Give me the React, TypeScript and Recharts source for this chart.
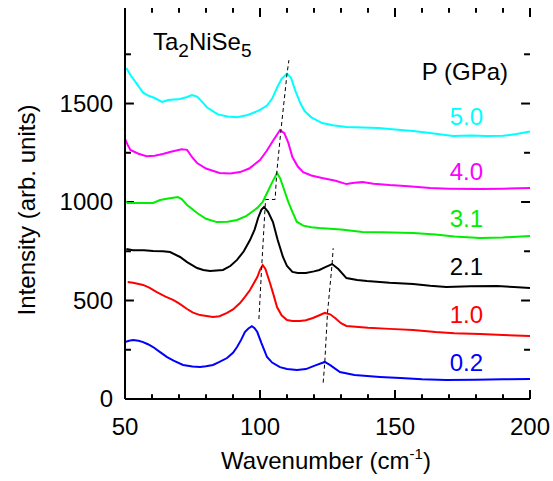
import React from "react";
import {
  LineChart,
  Line,
  XAxis,
  YAxis,
  ReferenceLine,
  Customized,
} from "recharts";

// Raman spectra of Ta2NiSe5 under pressure, offset vertically.
// Each series: [wavenumber (cm-1), intensity (arb. units)]
const p50: [number, number][] = [
  [50.5, 1680], [52, 1645], [54.4, 1600], [56.7, 1555], [59, 1538], [61, 1528], [63.7, 1508],
  [66, 1518], [70.4, 1523], [73, 1533], [74.8, 1543], [76.7, 1535], [78.5, 1510], [80.4, 1480],
  [84.4, 1445], [88, 1434], [91.5, 1431], [95, 1440], [97.4, 1452], [100, 1468], [102.6, 1490],
  [104.5, 1525], [106.3, 1580], [108, 1625], [110, 1652], [111.5, 1630], [113, 1568], [115, 1500],
  [116.5, 1462], [119, 1430], [123, 1401], [127, 1390], [132, 1381], [138, 1378], [144, 1376],
  [150, 1368], [156.7, 1360], [163, 1350], [171.5, 1335], [178, 1338], [184, 1335], [190, 1336],
  [195, 1345], [200, 1358],
];
const p40: [number, number][] = [
  [50, 1320], [51, 1290], [52, 1264], [55, 1245], [58, 1233], [61, 1235], [64, 1244], [67, 1255],
  [71, 1268], [73, 1265], [75, 1225], [76.7, 1198], [80, 1170], [85, 1147], [89, 1145],
  [92.6, 1152], [96, 1170], [100, 1213], [102.5, 1260], [105, 1315], [107.4, 1365], [109, 1350],
  [110.5, 1300], [112, 1228], [114, 1180], [116, 1152], [119, 1135], [123, 1122], [128, 1108],
  [132, 1091], [135, 1098], [138, 1101], [142, 1093], [148, 1086], [155, 1080], [163, 1071],
  [170, 1068], [181.5, 1066], [190, 1068], [200, 1071],
];
const p31: [number, number][] = [
  [50, 1005], [51, 995], [55.6, 995], [60.4, 995], [63, 1010], [66, 1018], [69.6, 1025],
  [71, 1015], [73, 985], [76.7, 944], [80, 915], [84, 898], [88, 900], [91.5, 909], [95, 930],
  [99, 970], [101, 1000], [102.6, 1046], [104.5, 1100], [106.3, 1147], [107.5, 1120], [109, 1060],
  [110.5, 1000], [112, 950], [113.6, 900], [116, 880], [119, 872], [122, 868], [130, 860],
  [138, 848], [145, 846], [156.7, 843], [165, 835], [172, 825], [181.5, 817], [190, 820],
  [200, 827],
];
const p21: [number, number][] = [
  [50.5, 761], [53, 755], [57, 755], [60.4, 751], [64, 750], [66.7, 746], [70.4, 721], [73, 695],
  [76.7, 665], [79, 655], [81.5, 650], [86.3, 655], [89, 675], [91.5, 706], [94, 750], [96.3, 807],
  [98, 860], [99.3, 919], [100.5, 960], [101.5, 975], [103, 950], [104.8, 898], [106.5, 810],
  [108.5, 721], [110, 675], [112, 645], [114, 640], [117, 640], [120, 648], [122, 655], [124, 668],
  [126.7, 685], [129, 660], [132, 614], [136, 604], [139.6, 599], [148, 590], [156.7, 584],
  [163, 575], [169, 569], [178, 572], [187.8, 574], [194, 568], [200, 563],
];
const p10: [number, number][] = [
  [51, 594], [53, 590], [56.7, 579], [59, 565], [61.8, 543], [65, 520], [67.8, 503], [70, 485],
  [73, 457], [75, 440], [77.8, 426], [82.6, 416], [85, 420], [87.8, 437], [90, 455], [92.6, 487],
  [94.5, 520], [96.3, 553], [99, 619], [100, 655], [101, 680], [102, 660], [103.7, 589], [105, 530],
  [106.3, 467], [108, 425], [110, 401], [112, 396], [114.8, 396], [117, 400], [119.6, 411],
  [122, 425], [124, 437], [126, 430], [127.8, 411], [130, 385], [132, 371], [140, 362], [148, 356],
  [156.7, 350], [165, 340], [172, 334], [181.5, 330], [190, 325], [200, 320],
];
const p02: [number, number][] = [
  [50, 289], [51.5, 296], [53, 299], [55, 296], [56.7, 289], [58.5, 278], [60.4, 264], [63, 238],
  [65.6, 213], [68, 195], [71.5, 173], [75, 165], [77.8, 162], [80, 166], [82.6, 173], [85, 188],
  [87.8, 208], [90, 235], [91.5, 264], [93, 300], [94.4, 340], [95.7, 358], [97, 370], [98, 360],
  [99, 340], [100.5, 285], [102.6, 213], [104.5, 185], [107.4, 162], [110, 152], [113.7, 147],
  [117, 152], [121, 173], [124, 188], [126, 172], [129.6, 137], [135, 122], [144.4, 112],
  [152, 106], [160, 100], [169, 96], [180, 98], [190, 100], [200, 101],
];

// guide lines through the peak positions
const guideA: [number, number][] = [
  [99.6, 406], [100.7, 690], [101.9, 975], [102.1, 1013], [105.6, 1013], [106.2, 1149],
  [107.8, 1370], [110, 1650], [110.7, 1720],
];
const guideB: [number, number][] = [
  [123.4, 83], [124, 188], [125, 437], [126.7, 685], [127.1, 765],
];

const pressures = ["5.0", "4.0", "3.1", "2.1", "1.0", "0.2"];
const colors = ["#00ffff", "#ff00ff", "#00ee00", "#000000", "#ff0000", "#0000ff"];
const spectra = [p50, p40, p31, p21, p10, p02];

const X_MIN = 50;
const X_MAX = 200;
const Y_MIN = 0;
const Y_MAX = 1985;
const xTicks = [50, 60, 70, 80, 90, 100, 110, 120, 130, 140, 150, 160, 170, 180, 190, 200];
const yTicks = [0, 250, 500, 750, 1000, 1250, 1500, 1750];

// inward tick lengths, in axis units (major / minor)
const X_TICK_LEN = [46, 24];
const Y_TICK_LEN = [3.3, 2.2];

const toRows = (pts: [number, number][]) => pts.map(([x, y]) => ({ x, y }));

const FONT = "'Liberation Sans', Arial, Helvetica, sans-serif";

function XLabel(props: any) {
  const { x, y, payload } = props;
  if (payload.value % 50 !== 0) return <g />;
  return (
    <text x={x} y={Number(y) + 36} textAnchor="middle" fontSize={24} fontFamily={FONT} fill="#000">
      {payload.value}
    </text>
  );
}

function YLabel(props: any) {
  const { x, y, payload } = props;
  if (payload.value % 500 !== 0) return <g />;
  return (
    <text x={Number(x) - 12} y={Number(y) + 8} textAnchor="end" fontSize={24} fontFamily={FONT} fill="#000">
      {payload.value}
    </text>
  );
}

function Annotations() {
  const labelY = [116, 171, 218, 266, 314, 362];
  return (
    <g fontFamily={FONT}>
      <text x={153} y={50} fontSize={24} fill="#000">
        Ta<tspan fontSize={19} dy={7}>2</tspan>
        <tspan dy={-7}>NiSe</tspan>
        <tspan fontSize={19} dy={7}>5</tspan>
      </text>
      <text x={508} y={80} fontSize={24} textAnchor="end" fill="#000">
        P (GPa)
      </text>
      {pressures.map((p, i) => (
        <text key={p} x={483} y={labelY[i] + 9} fontSize={24} textAnchor="end" fill={colors[i]}>
          {p}
        </text>
      ))}
      <text
        transform="translate(35 210) rotate(-90)"
        fontSize={24}
        textAnchor="middle"
        fill="#000"
      >
        Intensity (arb. units)
      </text>
      <text x={326} y={469} fontSize={24} textAnchor="middle" fill="#000">
        Wavenumber (cm<tspan fontSize={15} dy={-10}>-1</tspan>
        <tspan dy={10}>)</tspan>
      </text>
    </g>
  );
}

const tickStyle = { stroke: "#000", strokeWidth: 2 };

export default function App() {
  return (
    <div style={{ position: "absolute", left: 0, top: 0, background: "#fff" }}>
      <LineChart width={553} height={481} margin={{ top: 8, right: 23, left: 0, bottom: 0 }}>
        <XAxis
          xAxisId="bottom"
          dataKey="x"
          type="number"
          domain={[X_MIN, X_MAX]}
          ticks={xTicks}
          interval={0}
          height={82}
          tickSize={0}
          tickMargin={0}
          tickLine={false}
          axisLine={{ stroke: "#000", strokeWidth: 2 }}
          tick={<XLabel />}
          allowDataOverflow
        />
        <XAxis
          xAxisId="top"
          orientation="top"
          type="number"
          domain={[X_MIN, X_MAX]}
          ticks={xTicks}
          height={0}
          tick={false}
          tickLine={false}
          axisLine={{ stroke: "#000", strokeWidth: 2 }}
        />
        <YAxis
          yAxisId="left"
          type="number"
          domain={[Y_MIN, Y_MAX]}
          ticks={yTicks}
          interval={0}
          width={125}
          tickSize={0}
          tickMargin={0}
          tickLine={false}
          axisLine={{ stroke: "#000", strokeWidth: 2 }}
          tick={<YLabel />}
          allowDataOverflow
        />
        <YAxis
          yAxisId="right"
          orientation="right"
          type="number"
          domain={[Y_MIN, Y_MAX]}
          ticks={yTicks}
          width={0}
          tick={false}
          tickLine={false}
          axisLine={{ stroke: "#000", strokeWidth: 2 }}
        />

        {/* inward tick marks on all four sides */}
        {xTicks.map((v) => {
          const len = v % 50 === 0 ? X_TICK_LEN[0] : X_TICK_LEN[1];
          return [
            <ReferenceLine
              key={"xb" + v}
              xAxisId="bottom"
              yAxisId="left"
              segment={[{ x: v, y: Y_MIN }, { x: v, y: Y_MIN + len }]}
              {...tickStyle}
            />,
            <ReferenceLine
              key={"xt" + v}
              xAxisId="bottom"
              yAxisId="left"
              segment={[{ x: v, y: Y_MAX }, { x: v, y: Y_MAX - len }]}
              {...tickStyle}
            />,
          ];
        })}
        {yTicks.map((v) => {
          const len = v % 500 === 0 ? Y_TICK_LEN[0] : Y_TICK_LEN[1];
          return [
            <ReferenceLine
              key={"yl" + v}
              xAxisId="bottom"
              yAxisId="left"
              segment={[{ x: X_MIN, y: v }, { x: X_MIN + len, y: v }]}
              {...tickStyle}
            />,
            <ReferenceLine
              key={"yr" + v}
              xAxisId="bottom"
              yAxisId="left"
              segment={[{ x: X_MAX, y: v }, { x: X_MAX - len, y: v }]}
              {...tickStyle}
            />,
          ];
        })}

        {spectra.map((s, i) => (
          <Line
            key={pressures[i]}
            xAxisId="bottom"
            yAxisId="left"
            data={toRows(s)}
            dataKey="y"
            type="linear"
            stroke={colors[i]}
            strokeWidth={2}
            dot={false}
            isAnimationActive={false}
          />
        ))}
        {[guideA, guideB].map((g, i) => (
          <Line
            key={"guide" + i}
            xAxisId="bottom"
            yAxisId="left"
            data={toRows(g)}
            dataKey="y"
            type="linear"
            stroke="#000"
            strokeWidth={1}
            strokeDasharray="4 3"
            dot={false}
            isAnimationActive={false}
          />
        ))}
        <Customized component={Annotations} />
      </LineChart>
    </div>
  );
}
